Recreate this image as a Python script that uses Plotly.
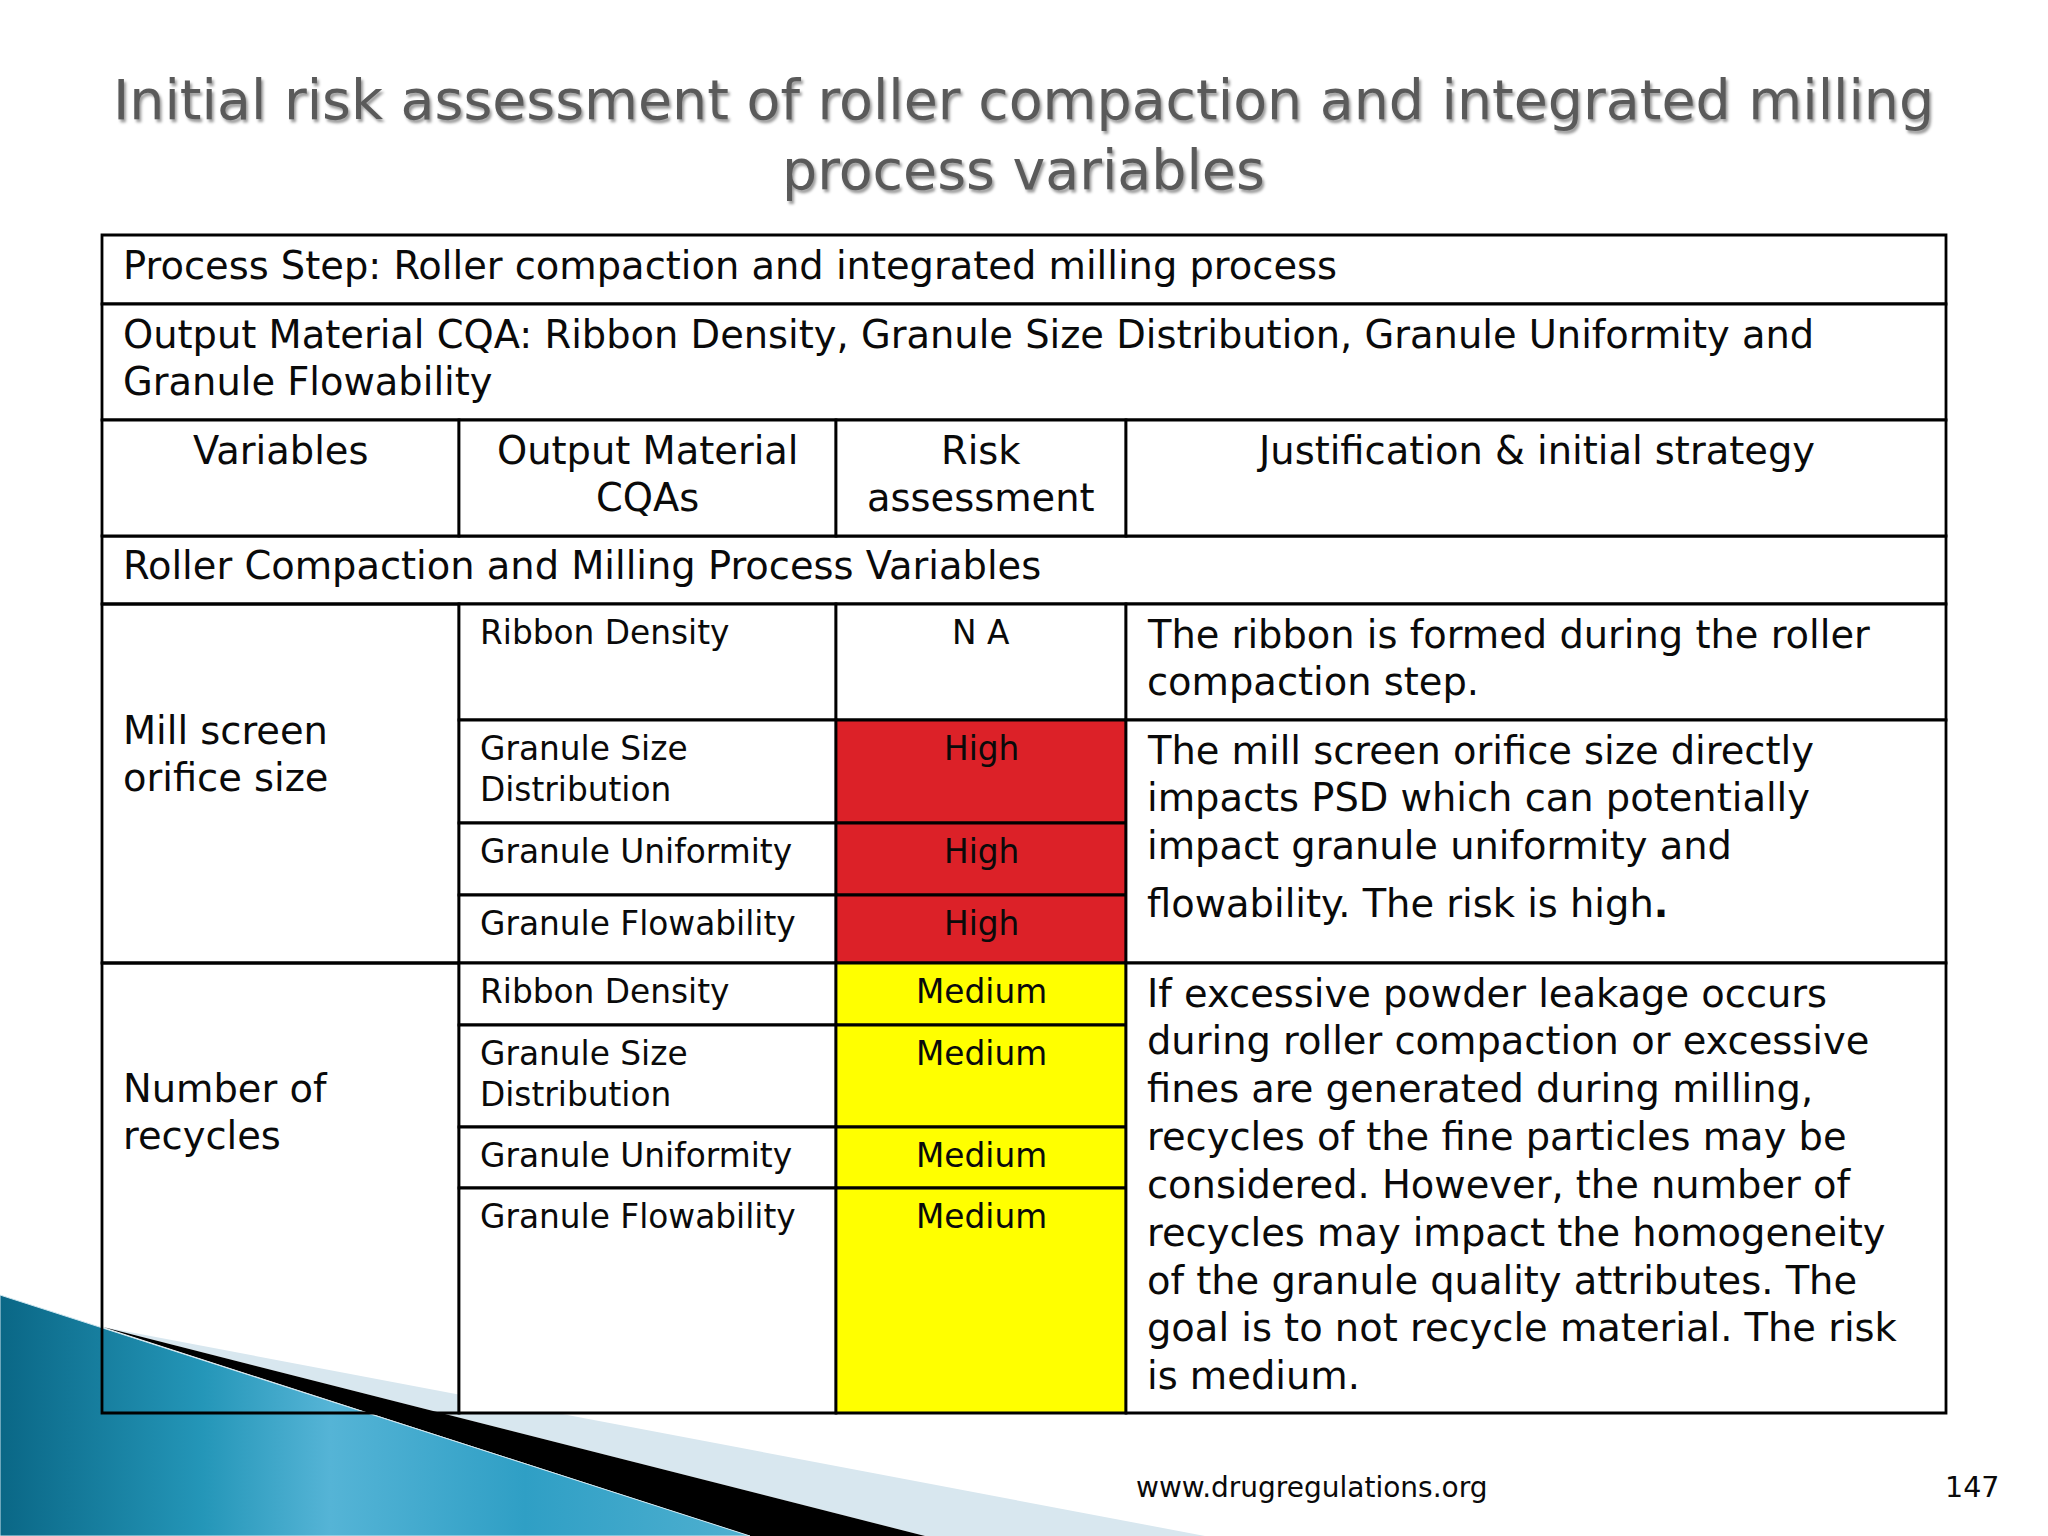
import plotly.graph_objects as go

# ---------- chart content ----------
TITLE_LINES = ["Initial risk assessment of roller compaction and integrated milling", "process variables"]
PROCESS_STEP = ["Process Step: Roller compaction and integrated milling process"]
OUTPUT_CQA = ["Output Material CQA: Ribbon Density, Granule Size Distribution, Granule Uniformity and",
              "Granule Flowability"]
HEADERS = [["Variables"], ["Output Material", "CQAs"], ["Risk", "assessment"], ["Justification & initial strategy"]]
SECTION = ["Roller Compaction and Milling Process Variables"]
VARIABLES = [["Mill screen", "orifice size"], ["Number of", "recycles"]]
CQAS = [["Ribbon Density"], ["Granule Size", "Distribution"], ["Granule Uniformity"], ["Granule Flowability"],
        ["Ribbon Density"], ["Granule Size", "Distribution"], ["Granule Uniformity"], ["Granule Flowability"]]
RISKS = ["N A", "High", "High", "High", "Medium", "Medium", "Medium", "Medium"]
JUSTIFICATIONS = [
    ["The ribbon is formed during the roller", "compaction step."],
    ["The mill screen orifice size directly", "impacts PSD which can potentially", "impact granule uniformity and",
     "flowability. The risk is high<b>.</b>"],
    ["If excessive powder leakage occurs", "during roller compaction or excessive",
     "fines are generated during milling,", "recycles of the fine particles may be",
     "considered. However, the number of", "recycles may impact the homogeneity",
     "of the granule quality attributes. The", "goal is to not recycle material. The risk", "is medium."],
]
FOOTER = "www.drugregulations.org"
PAGE = "147"

# ---------- layout and style ----------
W, H = 2048, 1536
COL_X = [102, 459, 836, 1126, 1946]
ROW_Y = [236, 304, 420, 536, 604, 720, 823, 895, 963, 1025, 1127, 1188, 1413]
FONT = "DejaVu Sans"
BIG, SMALL = 38.4, 32.8
BIG_LH, SMALL_LH = 47.85, 41
RISK_COLORS = {"N A": "#ffffff", "High": "#dc2128", "Medium": "#ffff00"}
INK = "#0a0a0a"
PAD = 19
LINE = dict(color="#000000", width=2.8)

fig = go.Figure()

# decorative corner of the slide
fig.add_trace(go.Scatter(x=[103, 1205, 925, 103], y=[1327, 1536, 1536, 1327], mode="lines", fill="toself",
                         fillcolor="#d8e7ef", line=dict(width=0), hoverinfo="skip", showlegend=False))
fig.add_trace(go.Scatter(x=[103, 925, 750, 103], y=[1327, 1536, 1536, 1327], mode="lines", fill="toself",
                         fillcolor="#000000", line=dict(width=0), hoverinfo="skip", showlegend=False))
fig.add_trace(go.Scatter(x=[0, 750, 0, 0], y=[1295, 1536, 1536, 1295], mode="lines", fill="toself",
                         fillgradient=dict(type="horizontal", start=0, stop=750,
                                           colorscale=[[0, "#0a6786"], [0.27, "#2496b8"], [0.44, "#55b4d6"],
                                                       [0.7, "#2f9fc5"], [1, "#4fb0d0"]]),
                         line=dict(width=1, color="#cfe6ef"), hoverinfo="skip", showlegend=False))


def cell(c0, c1, r0, r1, fill="white"):
    fig.add_shape(type="rect", x0=COL_X[c0], x1=COL_X[c1], y0=ROW_Y[r0], y1=ROW_Y[r1], layer="above",
                  line=LINE, fillcolor=fill)


def text(s, x, y, size, anchor="left", color=INK):
    fig.add_annotation(x=x, y=y, text=s, showarrow=False, xanchor=anchor, yanchor="middle", align=anchor,
                       xref="x", yref="y", font=dict(family=FONT, size=size, color=color))


def block(lines, c, r, size, lh, offset, center=False, nudge=None):
    for i, s in enumerate(lines):
        y = ROW_Y[r] + offset + i * lh + (nudge or {}).get(i, 0)
        if center:
            text(s, (COL_X[c] + COL_X[c + 1]) / 2, y, size, "center")
        else:
            text(s, COL_X[c] + PAD, y, size)


# spanning rows
fig.add_shape(type="rect", x0=COL_X[0], x1=COL_X[4], y0=235, y1=ROW_Y[1], layer="above", line=LINE, fillcolor="white")
cell(0, 4, 1, 2); cell(0, 4, 3, 4)
for c in range(4):
    cell(c, c + 1, 2, 3)
# merged columns
fig.add_shape(type="rect", x0=COL_X[0], x1=COL_X[1], y0=ROW_Y[4], y1=ROW_Y[8], layer="above", line=LINE)
fig.add_shape(type="rect", x0=COL_X[0], x1=COL_X[1], y0=ROW_Y[8], y1=ROW_Y[12], layer="above", line=LINE)
for i, risk in enumerate(RISKS):
    cell(1, 2, 4 + i, 5 + i)
    cell(2, 3, 4 + i, 5 + i, RISK_COLORS[risk])
cell(3, 4, 4, 5); cell(3, 4, 5, 8); cell(3, 4, 8, 12)

# texts
for line, y in zip(TITLE_LINES, (100, 170)):
    fig.add_annotation(x=W / 2 - 1, y=y, text=line, showarrow=False, xanchor="center", yanchor="middle",
                       font=dict(family=FONT, size=55.4, color="#5a5a5a", shadow="2px 3px 3px #9a9a9a"))
block(PROCESS_STEP, 0, 0, BIG, BIG_LH, 29)
block(OUTPUT_CQA, 0, 1, BIG, BIG_LH, 30)
for c, h in enumerate(HEADERS):
    block(h, c, 2, BIG, BIG_LH, 30, center=True)
block(SECTION, 0, 3, BIG, BIG_LH, 29.5)
block(VARIABLES[0], 0, 4, BIG, BIG_LH, 126)
block(VARIABLES[1], 0, 8, BIG, BIG_LH, 125)
for i, lines in enumerate(CQAS):
    block(lines, 1, 4 + i, SMALL, SMALL_LH, 29)
    block([RISKS[i]], 2, 4 + i, SMALL, SMALL_LH, 29, center=True)
block(JUSTIFICATIONS[0], 3, 4, BIG, BIG_LH, 30)
block(JUSTIFICATIONS[1], 3, 5, BIG, BIG_LH, 30, nudge={3: 10})
block(JUSTIFICATIONS[2], 3, 8, BIG, BIG_LH, 30)
text(FOOTER, 1311, 1487, 28, "center")
text(PAGE, 2001, 1487, 28.5, "right")

fig.update_layout(width=W, height=H, autosize=False, margin=dict(l=0, r=0, t=0, b=0),
                  paper_bgcolor="white", plot_bgcolor="white", showlegend=False,
                  xaxis=dict(range=[0, W], visible=False, fixedrange=True),
                  yaxis=dict(range=[H, 0], visible=False, fixedrange=True))
fig.write_html("out.html", config={"displayModeBar": False}, post_script="document.body.style.margin='0';")
